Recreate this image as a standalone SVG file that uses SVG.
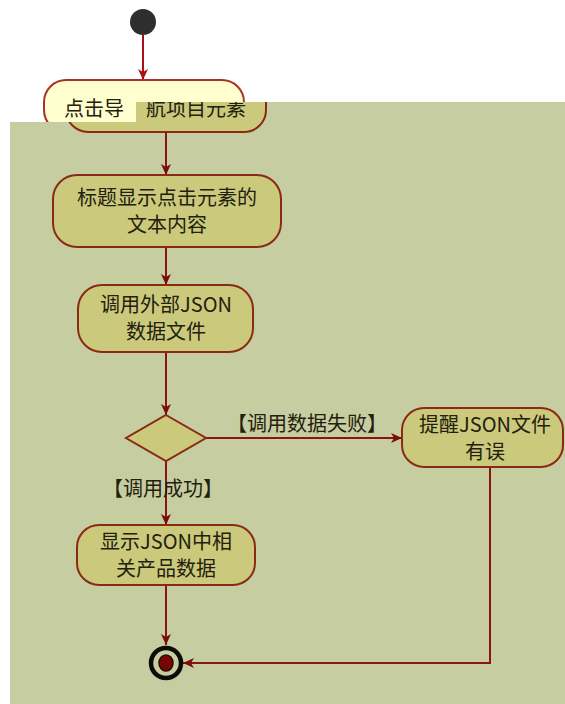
<svg xmlns="http://www.w3.org/2000/svg" width="565" height="704" viewBox="0 0 565 704">
<style>
.node{fill:#cbca7c;stroke:#8a2a14;stroke-width:2}
.nodeTop{fill:#fefece;stroke:#a8322a;stroke-width:2}
.txt{font-family:"Noto Sans CJK SC","Liberation Sans",sans-serif;font-size:20px;fill:#23200e;text-anchor:middle}
.edge{fill:none;stroke:#8b1512;stroke-width:2}
.edgeTop{fill:none;stroke:#a8101a;stroke-width:2}
</style>
<defs>
<marker id="ah" markerUnits="userSpaceOnUse" markerWidth="12" markerHeight="12" refX="11" refY="5" orient="auto">
<path d="M0,0 L11,5 L0,10 L3,5 z" fill="#7a0c0a"/>
</marker>
<marker id="ahTop" markerUnits="userSpaceOnUse" markerWidth="12" markerHeight="12" refX="11" refY="5" orient="auto">
<path d="M0,0 L11,5 L0,10 L3,5 z" fill="#a8101a"/>
</marker>
<clipPath id="panelClip">
<polygon points="10,122 136,122 136,102 565,102 565,704 10,704"/>
</clipPath>
</defs>
<rect x="0" y="0" width="565" height="704" fill="#ffffff"/>

<g id="start">
<circle cx="143" cy="22" r="13" fill="#2e2e2e"/>
</g>
<g id="connector-start">
<line class="edgeTop" x1="143" y1="35" x2="143" y2="80" marker-end="url(#ahTop)"/>
</g>
<g id="node1-top">
<rect class="nodeTop" x="44" y="80" width="200" height="52" rx="22"/>
<text class="txt" x="64" y="116" style="text-anchor:start">点击导</text>
</g>

<g id="panel">
<polygon points="10,122 136,122 136,102 565,102 565,704 10,704" fill="#c6cda0"/>
</g>

<g id="node1" clip-path="url(#panelClip)">
<rect class="node" x="66" y="80" width="200" height="52" rx="22"/>
<text class="txt" x="146" y="116" style="text-anchor:start">航项目元素</text>
</g>

<g id="connectors">
<line class="edge" x1="166" y1="132" x2="166" y2="175" marker-end="url(#ah)"/>
<line class="edge" x1="166" y1="247" x2="166" y2="285" marker-end="url(#ah)"/>
<line class="edge" x1="166" y1="352" x2="166" y2="415" marker-end="url(#ah)"/>
<line class="edge" x1="206" y1="438" x2="402" y2="438" marker-end="url(#ah)"/>
<text class="txt" x="307" y="431">【调用数据失败】</text>
<line class="edge" x1="166" y1="461" x2="166" y2="525" marker-end="url(#ah)"/>
<text class="txt" x="163" y="496">【调用成功】</text>
<line class="edge" x1="166" y1="585" x2="166" y2="645" marker-end="url(#ah)"/>
<polyline class="edge" points="490,467 490,663 183,663" marker-end="url(#ah)"/>
</g>

<g id="node2">
<rect class="node" x="53" y="175" width="228" height="72" rx="24"/>
<text class="txt" x="167" y="205">标题显示点击元素的</text>
<text class="txt" x="167" y="232">文本内容</text>
</g>

<g id="node3">
<rect class="node" x="78" y="285" width="175" height="67" rx="24"/>
<text class="txt" x="166" y="312">调用外部JSON</text>
<text class="txt" x="166" y="339">数据文件</text>
</g>

<g id="decision">
<polygon class="node" points="166,415 206,438 166,461 126,438"/>
</g>

<g id="node4">
<rect class="node" x="402" y="408" width="161" height="59" rx="22"/>
<text class="txt" x="485" y="432">提醒JSON文件</text>
<text class="txt" x="485" y="459">有误</text>
</g>

<g id="node5">
<rect class="node" x="77" y="525" width="178" height="60" rx="22"/>
<text class="txt" x="166" y="549">显示JSON中相</text>
<text class="txt" x="166" y="576">关产品数据</text>
</g>

<g id="end">
<circle cx="166" cy="663" r="15" fill="#c6cda0" stroke="#0c0c0a" stroke-width="4.5"/>
<ellipse cx="166" cy="663" rx="7" ry="8" fill="#760606" stroke="#2a0a06" stroke-width="1.5"/>
</g>
</svg>
